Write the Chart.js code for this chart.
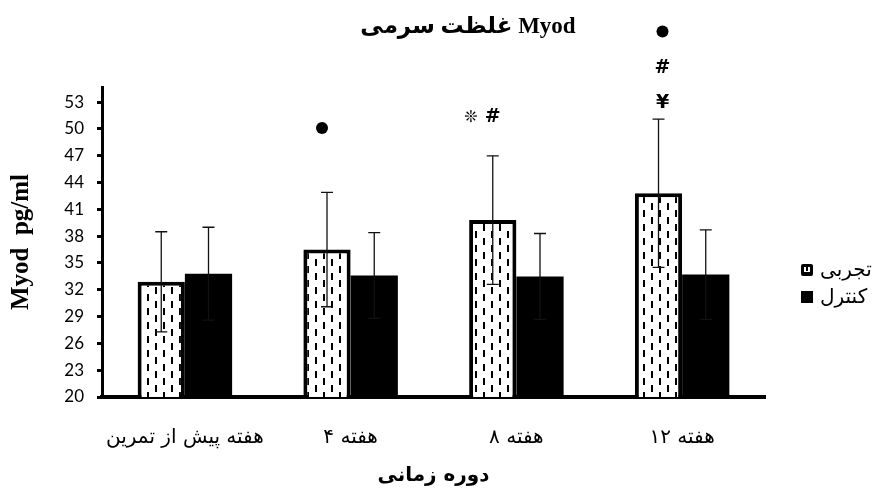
<!DOCTYPE html>
<html><head><meta charset="utf-8">
<script src="https://cdn.jsdelivr.net/npm/chart.js@4/dist/chart.umd.min.js"></script>
<style>html,body{margin:0;padding:0;background:#fff}</style>
</head><body>
<canvas id="c" width="881" height="495" style="width:881px;height:495px"></canvas>
<script>
// ---- data ----
const categories = ['هفته پیش از تمرین', 'هفته ۴', 'هفته ۸', 'هفته ۱۲'];
const seriesNames = ['تجربی', 'کنترل'];
const experimental = [32.9, 36.5, 39.8, 42.8];
const experimentalSD = [5.6, 6.4, 7.2, 8.3];
const control = [33.8, 33.6, 33.5, 33.7];
const controlSD = [5.2, 4.8, 4.8, 5.0];
const yTicks = [20, 23, 26, 29, 32, 35, 38, 41, 44, 47, 50, 53];
const yMin = 20, yMax = 54.7;
const chartTitle = 'غلظت سرمی Myod';
const xTitle = 'دوره زمانی';
const yTitle = 'Myod  pg/ml';
// significance marks (category index, glyph, value level)
const markCategory = [1, 2, 2, 3, 3, 3];
const markText = ['●', '❊', '#', '●', '#', '¥'];
const markValue = [50.1, 51.3, 51.3, 60.9, 56.8, 52.9];

// ---- styling helpers ----
const markShift = [-5, -22, 0, 4, 4, 4];
const persianFont = "'DejaVu Sans', sans-serif";

function makePattern() {
  const c = document.createElement('canvas');
  c.width = 16; c.height = 14;
  const g = c.getContext('2d');
  g.fillStyle = '#fff'; g.fillRect(0, 0, 16, 14);
  g.fillStyle = '#000';
  g.fillRect(3, 0, 2, 7);
  g.fillRect(11, 7, 2, 7);
  return document.getElementById('c').getContext('2d').createPattern(c, 'repeat');
}

const errorBars = {
  id: 'errorBars',
  afterDatasetsDraw(chart) {
    const ctx = chart.ctx, ys = chart.scales.y;
    chart.data.datasets.forEach((ds, i) => {
      const meta = chart.getDatasetMeta(i);
      meta.data.forEach((bar, j) => {
        const v = ds.data[j], e = ds.sd[j];
        const yt = ys.getPixelForValue(v + e), yb = ys.getPixelForValue(v - e);
        ctx.save();
        ctx.strokeStyle = '#111'; ctx.lineWidth = 1.3;
        ctx.beginPath();
        ctx.moveTo(bar.x, yt); ctx.lineTo(bar.x, yb);
        ctx.moveTo(bar.x - 6, yt); ctx.lineTo(bar.x + 6, yt);
        ctx.moveTo(bar.x - 6, yb); ctx.lineTo(bar.x + 6, yb);
        ctx.stroke();
        ctx.restore();
      });
    });
  }
};

const marks = {
  id: 'marks',
  afterDraw(chart) {
    const ctx = chart.ctx, ys = chart.scales.y;
    const meta = chart.getDatasetMeta(0);
    markText.forEach((t, k) => {
      const bar = meta.data[markCategory[k]];
      const x = bar.x + markShift[k];
      const y = ys.getPixelForValue(markValue[k]);
      ctx.save();
      ctx.fillStyle = '#000';
      if (t === '●') {
        ctx.beginPath(); ctx.arc(x, y, 6, 0, Math.PI * 2); ctx.fill();
      } else {
        ctx.textAlign = 'center'; ctx.textBaseline = 'middle';
        ctx.font = t === '❊' ? "bold 16px 'DejaVu Sans'" : "bold 19px 'DejaVu Sans'";
        ctx.fillText(t, x, y);
      }
      ctx.restore();
    });
  }
};

const titlePlugin = {
  id: 'customTitle',
  afterDraw(chart) {
    const ctx = chart.ctx;
    ctx.save();
    ctx.direction = 'ltr';
    ctx.fillStyle = '#000';
    ctx.font = "bold 23px 'Liberation Serif', 'DejaVu Sans', serif";
    ctx.textAlign = 'center'; ctx.textBaseline = 'middle';
    ctx.fillText('\u2066' + chartTitle + '\u2069', 468, 27);
    ctx.restore();
  }
};

const legendPlugin = {
  id: 'customLegend',
  afterDraw(chart) {
    const ctx = chart.ctx;
    const x0 = 801, ys = [270, 297];
    seriesNames.forEach((name, i) => {
      const y = ys[i];
      ctx.save();
      ctx.fillStyle = '#000';
      if (i === 0) {
        ctx.beginPath(); ctx.roundRect(x0, y - 6, 12, 12, 2); ctx.fill();
        ctx.fillStyle = '#fff'; ctx.fillRect(x0 + 3, y - 3, 6, 5);
        ctx.fillStyle = '#000'; ctx.fillRect(x0 + 5, y - 3, 2, 4);
      } else {
        ctx.fillRect(x0, y - 6, 12, 12);
      }
      ctx.font = '20px ' + persianFont;
      ctx.textAlign = 'left'; ctx.textBaseline = 'middle';
      ctx.fillText(name, x0 + 19, y + 1);
      ctx.restore();
    });
  }
};

const ctx = document.getElementById('c').getContext('2d');
new Chart(ctx, {
  type: 'bar',
  data: {
    labels: categories,
    datasets: [
      { label: seriesNames[0], data: experimental, sd: experimentalSD,
        backgroundColor: makePattern(), borderColor: '#000',
        borderWidth: 4, borderSkipped: 'start' },
      { label: seriesNames[1], data: control, sd: controlSD,
        backgroundColor: '#000', borderWidth: 0 }
    ]
  },
  plugins: [errorBars, marks, titlePlugin, legendPlugin],
  options: {
    responsive: false, animation: false, devicePixelRatio: 1,
    datasets: { bar: { categoryPercentage: 0.57, barPercentage: 1.0 } },
    layout: { padding: { left: 0, right: 116, top: 87, bottom: 0 } },
    plugins: {
      legend: { display: false }, tooltip: { enabled: false }, title: { display: false }
    },
    scales: {
      x: {
        grid: { display: false, drawTicks: false },
        border: { display: true, width: 4, color: '#000' },
        ticks: { color: '#000', font: { family: persianFont, size: 20 }, padding: 29 },
        title: { display: true, text: xTitle, color: '#000',
          font: { family: persianFont, size: 20, weight: 'bold' }, padding: { top: 0, bottom: 7 } },
        afterFit(s) { s.height = 98; }
      },
      y: {
        min: yMin, max: yMax,
        afterBuildTicks(s) { s.ticks = yTicks.map(v => ({ value: v })); },
        grid: { display: true, drawOnChartArea: false, drawTicks: true, tickLength: 5, lineWidth: 3, color: '#000' },
        border: { display: true, width: 3, color: '#000' },
        ticks: { color: '#000', font: { family: 'Lato', size: 17 }, padding: 13 },
        title: { display: true, text: yTitle, color: '#000',
          font: { family: 'Liberation Serif', size: 25, weight: 'bold' }, padding: { top: 7, bottom: 0 } },
        afterFit(s) { s.width = 102; }
      }
    }
  }
});
</script>
</body></html>
